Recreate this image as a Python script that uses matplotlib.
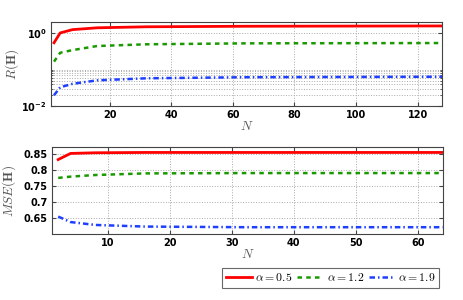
import matplotlib
matplotlib.use("Agg")
import matplotlib.pyplot as plt
from matplotlib.ticker import FixedLocator, FuncFormatter, NullFormatter
from matplotlib.font_manager import FontProperties

# ---- data ----
N_top = [2, 4, 8, 16, 32, 64, 128]
R_a05 = [0.54, 1.0, 1.23, 1.38, 1.47, 1.52, 1.55]
R_a12 = [0.165, 0.288, 0.34, 0.44, 0.49, 0.52, 0.53]
R_a19 = [0.020, 0.033, 0.041, 0.051, 0.058, 0.062, 0.064]

N_bot = [2, 4, 8, 16, 32, 64]
M_a05 = [0.832, 0.851, 0.853, 0.854, 0.854, 0.854]
M_a12 = [0.775, 0.779, 0.784, 0.789, 0.790, 0.790]
M_a19 = [0.655, 0.638, 0.629, 0.624, 0.622, 0.622]

labels = [r'$\alpha = 0.5$', r'$\alpha = 1.2$', r'$\alpha = 1.9$']
top_xticks = [20, 40, 60, 80, 100, 120]
bot_xticks = [10, 20, 30, 40, 50, 60]
bot_yticks = [0.65, 0.7, 0.75, 0.8, 0.85]
bot_yticklabels = ['0.65', '0.7', '0.75', '0.8', '0.85']

colors = ['#ff0000', '#1a9a00', '#1f3fff']
dashes = [None, (1.8, 1.7), (2.2, 1.2, 0.6, 1.2)]
widths = [2.0, 1.8, 1.8]

fig = plt.figure(figsize=(4.63, 3.0), dpi=100)
ax1 = fig.add_axes([0.110, 0.6457, 0.8456, 0.28])
ax2 = fig.add_axes([0.1123, 0.219, 0.8438, 0.29])

edge = '#444444'


def style_line(ln, d):
    if d is not None:
        ln.set_dashes(d)


lines = []
for y, c, d, w, l in zip([R_a05, R_a12, R_a19], colors, dashes, widths, labels):
    ln, = ax1.plot(N_top, y, color=c, linewidth=w, label=l)
    style_line(ln, d)
    lines.append(ln)
ax1.set_yscale('log')
ax1.set_xlim(1, 128)
ax1.set_ylim(0.01, 1.95)
ax1.set_xticks(top_xticks)
ax1.yaxis.set_major_locator(FixedLocator([0.01, 1.0]))
ax1.yaxis.set_minor_locator(FixedLocator([0.02, 0.03, 0.04, 0.05, 0.06, 0.07, 0.08, 0.09, 0.1]))
ax1.yaxis.set_minor_formatter(NullFormatter())
ax1.yaxis.set_major_formatter(FuncFormatter(
    lambda v, p: r'$\mathbf{10^{0}}$' if v > 0.5 else r'$\mathbf{10^{-2}}$'))
ax1.grid(True, which='major', linestyle=':', color='#aaaaaa', linewidth=0.7)
ax1.grid(True, which='minor', axis='y', linestyle=':', color='#aaaaaa', linewidth=0.7)
ax1.set_ylabel(r'$R(\mathbf{H})$', fontsize=9.5, color='#555555', math_fontfamily='cm')
ax1.yaxis.set_label_coords(-0.077, 0.5)
ax1.set_xlabel(r'$N$', fontsize=9.5, color='#555555', math_fontfamily='cm', labelpad=0)

for y, c, d, w in zip([M_a05, M_a12, M_a19], colors, dashes, widths):
    ln, = ax2.plot(N_bot, y, color=c, linewidth=w)
    style_line(ln, d)
ax2.set_xlim(1, 64)
ax2.set_ylim(0.6, 0.87)
ax2.set_xticks(bot_xticks)
ax2.set_yticks(bot_yticks)
ax2.set_yticklabels(bot_yticklabels)
ax2.grid(True, linestyle=':', color='#aaaaaa', linewidth=0.7)
ax2.set_ylabel(r'$MSE(\mathbf{H})$', fontsize=9.5, color='#555555', math_fontfamily='cm')
ax2.yaxis.set_label_coords(-0.087, 0.5)
ax2.set_xlabel(r'$N$', fontsize=9.5, color='#555555', math_fontfamily='cm', labelpad=0)

for ax in (ax1, ax2):
    ax.tick_params(which='both', direction='in', top=True, right=True, length=3,
                   color=edge, labelsize=7, pad=3)
    ax.tick_params(which='minor', length=1.5)
    for lab in ax.get_xticklabels() + ax.get_yticklabels():
        lab.set_fontweight('bold')
    for sp in ax.spines.values():
        sp.set_color(edge)
        sp.set_linewidth(0.8)
    ax.set_axisbelow(True)

legprop = FontProperties(size=8.5, math_fontfamily='cm')
leg = fig.legend(handles=lines, labels=labels, loc='center',
                 bbox_to_anchor=(0.7145, 0.0745), ncol=3, prop=legprop,
                 frameon=True, fancybox=False, handlelength=2.2, handletextpad=0.3,
                 columnspacing=0.4, borderpad=0.3, borderaxespad=0)
leg.get_frame().set_edgecolor('#444444')
leg.get_frame().set_linewidth(0.8)

fig.savefig('out.png', dpi=100)
